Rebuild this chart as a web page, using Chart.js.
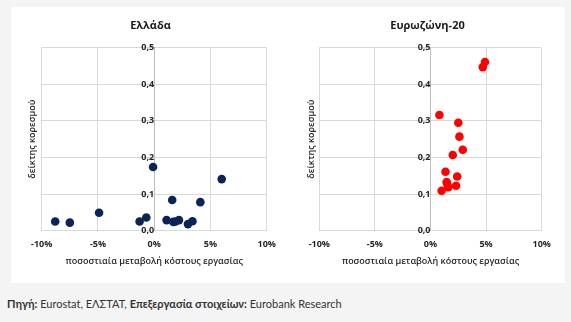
<!DOCTYPE html>
<html>
<head>
<meta charset="utf-8">
<script src="https://cdn.jsdelivr.net/npm/chart.js@4/dist/chart.umd.min.js"></script>
<style>
  html, body { margin: 0; padding: 0; }
  body { width: 571px; height: 322px; background: #f4f4f4; position: relative; overflow: hidden; font-family: "Open Sans", "Noto Sans", sans-serif; }
  #panel { position: absolute; left: 11px; top: 7px; width: 554px; height: 276px; background: #ffffff; }
  canvas { position: absolute; top: 7px; }
  #c1 { left: 11px; }
  #c2 { left: 290px; }
  #source { position: absolute; left: 7px; top: 297px; font-family: Lato, "Noto Sans", sans-serif; font-size: 11px; color: #333333; white-space: nowrap; }
  #source b { font-weight: 700; }
</style>
</head>
<body>
<div id="panel"></div>
<canvas id="c1" width="279" height="276"></canvas>
<canvas id="c2" width="275" height="276"></canvas>
<div id="source"><b>Πηγή:</b> Eurostat, ΕΛΣΤΑΤ, <b>Επεξεργασία στοιχείων:</b> Eurobank Research</div>
<script>
// Labour-cost change (%) vs saturation index, by sector
const greeceX = [-8.8, -7.5, -4.9, -1.3, -0.7, -0.1, 1.1, 1.6, 1.7, 1.9, 2.2, 3.0, 3.4, 4.1, 6.0];
const greeceY = [0.025, 0.022, 0.049, 0.025, 0.036, 0.174, 0.029, 0.084, 0.024, 0.025, 0.029, 0.018, 0.026, 0.078, 0.141];
const euroX = [4.9, 4.7, 0.8, 2.5, 2.6, 2.9, 2.0, 1.35, 2.4, 1.45, 1.5, 1.6, 2.3, 1.0];
const euroY = [0.461, 0.447, 0.316, 0.295, 0.257, 0.221, 0.207, 0.161, 0.148, 0.133, 0.128, 0.119, 0.123, 0.109];

const panelTitles = ['Ελλάδα', 'Ευρωζώνη-20'];
const xTitle = 'ποσοστιαία μεταβολή κόστους εργασίας';
const yTitle = 'δείκτης κορεσμού';
const xTicks = [-10, -5, 0, 5, 10];
const yTicks = [0, 0.1, 0.2, 0.3, 0.4, 0.5];

const FONT = '"Open Sans", "Noto Sans", sans-serif';

// Panel title and rotated y-axis title
const panelText = {
  id: 'panelText',
  afterDraw(chart, args, opts) {
    const ctx = chart.ctx;
    const area = chart.chartArea;
    ctx.save();
    ctx.fillStyle = '#1a1a1a';
    ctx.font = 'bold 11px ' + FONT;
    ctx.textAlign = 'center';
    ctx.textBaseline = 'middle';
    ctx.fillText(opts.title, chart.width / 2, 19);
    ctx.fillStyle = '#262626';
    ctx.font = '600 9px ' + FONT;
    ctx.translate(opts.yTitleX, (area.top + area.bottom) / 2);
    ctx.rotate(-Math.PI / 2);
    ctx.fillText(yTitle, 0, 0);
    ctx.restore();
  }
};

function makeChart(id, xs, ys, color, title, pad) {
  const points = xs.map((x, i) => ({ x: x, y: ys[i] }));
  return new Chart(document.getElementById(id), {
    type: 'scatter',
    data: { datasets: [{ data: points, backgroundColor: color, borderWidth: 0, pointRadius: 4.3, pointHoverRadius: 4.3 }] },
    plugins: [panelText],
    options: {
      responsive: false,
      devicePixelRatio: 1,
      animation: false,
      events: [],
      layout: { padding: pad },
      plugins: {
        legend: { display: false },
        tooltip: { enabled: false },
        panelText: { title: title, yTitleX: 21 }
      },
      scales: {
        x: {
          type: 'linear',
          min: xTicks[0], max: xTicks[xTicks.length - 1],
          afterBuildTicks: (s) => { s.ticks = xTicks.map(v => ({ value: v })); },
          afterFit: (s) => { s.height = 40; },
          ticks: { padding: 8, color: '#262626', font: { family: FONT, size: 9, weight: 'bold' }, callback: (v) => v + '%', maxRotation: 0 },
          grid: { color: '#d9d9d9', drawTicks: false },
          border: { color: '#d9d9d9' },
          title: { display: true, text: xTitle, color: '#262626', font: { family: FONT, size: 9, weight: '600' }, padding: { top: 0, bottom: 3.6 } }
        },
        y: {
          type: 'linear',
          position: { x: 0 },
          min: yTicks[0], max: yTicks[yTicks.length - 1],
          afterBuildTicks: (s) => { s.ticks = yTicks.map(v => ({ value: v })); },
          ticks: { padding: 9, color: '#262626', font: { family: FONT, size: 9, weight: 'bold' }, callback: (v) => v.toFixed(1).replace('.', ',') },
          grid: { color: '#d9d9d9', drawTicks: false },
          border: { color: '#bfbfbf' }
        }
      }
    }
  });
}

makeChart('c1', greeceX, greeceY, '#0b2457', panelTitles[0], { left: 30.7, right: 23.3, top: 40.7, bottom: 12.3 });
makeChart('c2', euroX, euroY, '#ff0000', panelTitles[1], { left: 29.3, right: 23.3, top: 40.7, bottom: 12.3 });
</script>
</body>
</html>
